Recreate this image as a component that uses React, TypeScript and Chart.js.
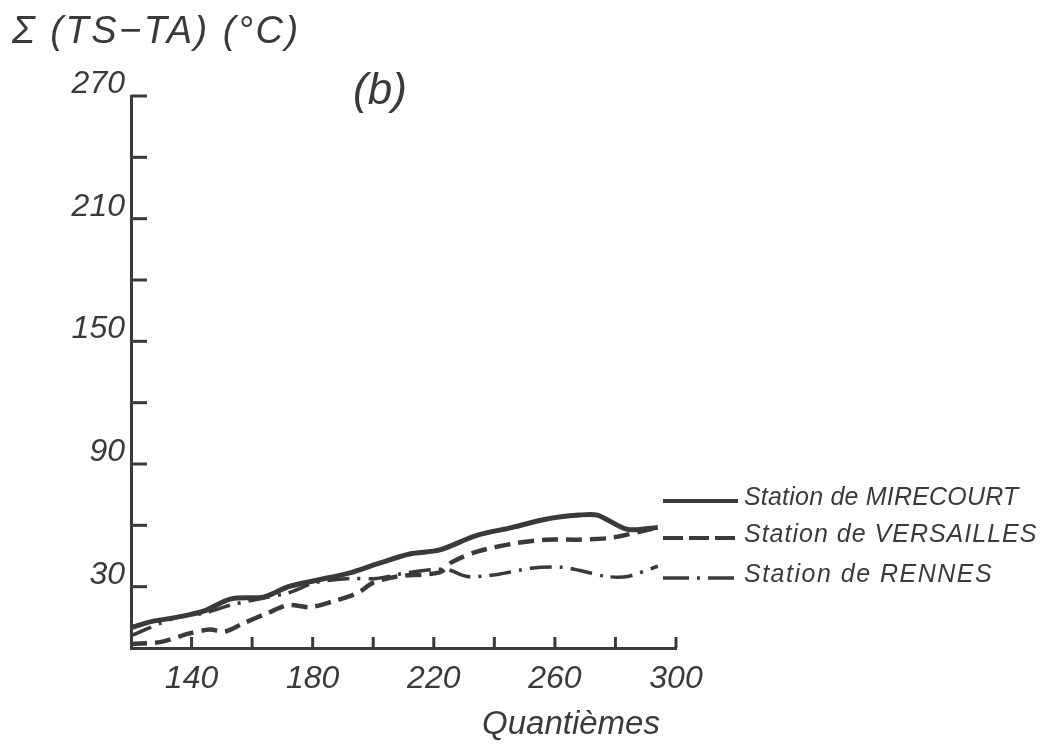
import React, { useEffect, useRef } from "react";
import { Chart, registerables } from "chart.js";

Chart.register(...registerables);

// Day of year (Quantièmes) and cumulated Σ(TS−TA) in °C
const mirecourtDays = [120, 127, 135, 144, 153, 164, 172, 181, 193, 201, 212, 222, 234, 246, 257, 268, 274, 284, 294];
const mirecourtSum = [10, 13, 15, 18, 24, 25, 30, 33, 37, 41, 46, 48, 55, 59, 63, 65, 65, 58, 59];

const versaillesDays = [120, 130, 139, 146, 151, 157, 165, 172, 179, 186, 195, 200, 208, 222, 226, 234, 246, 257, 268, 279, 294];
const versaillesSum = [2, 3, 7, 9, 8, 12, 17, 21, 20, 22.5, 27, 32, 35, 37, 42, 47, 51, 53, 53, 54, 59];

const rennesDays = [120, 135, 144, 153, 164, 172, 181, 192, 201, 212, 224, 231, 241, 252, 262, 268, 277, 284, 294];
const rennesSum = [6, 15, 17, 21, 24.5, 27, 32, 34, 34, 37, 38.5, 35, 36, 39, 39.5, 38, 35, 35, 40];

const xLabels = [140, 180, 220, 260, 300];
const yLabels = [30, 90, 150, 210, 270];

const seriesNames = ["Station de MIRECOURT", "Station de VERSAILLES", "Station de RENNES"];
const titleText = "Σ (TS−TA) (°C)";
const panelText = "(b)";
const xTitle = "Quantièmes";

const INK = "#3a3a3a";
const FONT = '"Liberation Sans", Arial, sans-serif';

const toPoints = (xs: number[], ys: number[]) => xs.map((x, i) => ({ x, y: ys[i] }));

export default function App() {
  const ref = useRef<HTMLCanvasElement | null>(null);

  useEffect(() => {
    document.body.style.margin = "0";
    const canvas = ref.current;
    if (!canvas) return;

    const setSpacing = (ctx: any, v: string) => {
      try { ctx.letterSpacing = v; } catch (e) {}
    };

    const decor = {
      id: "decor",
      afterDraw(chart: any) {
        const ctx = chart.ctx;
        const xs = chart.scales.x;
        const ys = chart.scales.y;
        ctx.save();
        ctx.strokeStyle = INK;
        ctx.fillStyle = INK;
        ctx.lineWidth = 3;
        ctx.lineCap = "butt";
        // inward tick marks
        ys.ticks.forEach((t: any) => {
          if (t.value <= 0) return;
          const y = ys.getPixelForValue(t.value);
          ctx.beginPath();
          ctx.moveTo(xs.left, y);
          ctx.lineTo(xs.left + 16, y);
          ctx.stroke();
        });
        xs.ticks.forEach((t: any) => {
          if (t.value <= 120) return;
          const x = xs.getPixelForValue(t.value);
          ctx.beginPath();
          ctx.moveTo(x, ys.bottom);
          ctx.lineTo(x, ys.bottom - 11);
          ctx.stroke();
        });

        // titles
        ctx.textBaseline = "alphabetic";
        ctx.textAlign = "left";
        ctx.font = `italic 38px ${FONT}`;
        setSpacing(ctx, "2.5px");
        ctx.fillText(titleText, 12, 43);
        setSpacing(ctx, "0px");
        ctx.font = `italic 44px ${FONT}`;
        ctx.textAlign = "center";
        ctx.fillText(panelText, 380, 104);
        ctx.font = `italic 33px ${FONT}`;
        ctx.fillText(xTitle, 571, 734);

        // legend
        const rows = [501, 538, 578];
        const dashes = [[], [20, 6], [26, 8, 3, 8]];
        const widths = [4, 4, 3.5];
        const spacing = ["0.2px", "1px", "1.5px"];
        rows.forEach((y, i) => {
          ctx.beginPath();
          ctx.setLineDash(dashes[i]);
          ctx.lineWidth = widths[i];
          ctx.moveTo(663, y);
          ctx.lineTo(738, y);
          ctx.stroke();
          ctx.setLineDash([]);
          ctx.font = `italic 25px ${FONT}`;
          ctx.textAlign = "left";
          setSpacing(ctx, spacing[i]);
          ctx.fillText(seriesNames[i], 744, y + 4);
          setSpacing(ctx, "0px");
        });
        ctx.restore();
      },
    };

    const chart = new Chart(canvas, {
      type: "line",
      data: {
        datasets: [
          {
            label: seriesNames[0],
            data: toPoints(mirecourtDays, mirecourtSum),
            borderColor: INK,
            borderWidth: 5,
            pointRadius: 0,
            tension: 0.3,
            fill: false,
          },
          {
            label: seriesNames[1],
            data: toPoints(versaillesDays, versaillesSum),
            borderColor: INK,
            borderWidth: 4.5,
            borderDash: [16, 8],
            pointRadius: 0,
            tension: 0.3,
            fill: false,
          },
          {
            label: seriesNames[2],
            data: toPoints(rennesDays, rennesSum),
            borderColor: INK,
            borderWidth: 3.5,
            borderDash: [22, 8, 3, 8],
            pointRadius: 0,
            tension: 0.3,
            fill: false,
          },
        ],
      },
      options: {
        responsive: false,
        animation: false,
        layout: { padding: { left: 0, top: 96, right: 381, bottom: 0 } },
        plugins: { legend: { display: false }, tooltip: { enabled: false }, title: { display: false } },
        scales: {
          x: {
            type: "linear",
            min: 120,
            max: 300,
            afterFit: (s: any) => { s.height = 96; },
            afterBuildTicks: (s: any) => {
              const t = [];
              for (let v = 120; v <= 300; v += 20) t.push({ value: v });
              s.ticks = t;
            },
            grid: { display: true, drawOnChartArea: false, drawTicks: false },
            border: { display: true, color: INK, width: 3 },
            ticks: {
              color: INK,
              padding: 12,
              maxRotation: 0,
              autoSkip: false,
              font: { family: FONT, style: "italic", size: 32 },
              callback: (v: any) => (xLabels.includes(Number(v)) ? String(v) : ""),
            },
          },
          y: {
            type: "linear",
            min: 0,
            max: 270,
            afterFit: (s: any) => { s.width = 131; },
            afterBuildTicks: (s: any) => {
              const t = [];
              for (let v = 0; v <= 270; v += 30) t.push({ value: v });
              s.ticks = t;
            },
            grid: { display: true, drawOnChartArea: false, drawTicks: false },
            border: { display: true, color: INK, width: 3 },
            ticks: {
              color: INK,
              padding: 6,
              labelOffset: -12,
              autoSkip: false,
              font: { family: FONT, style: "italic", size: 32 },
              callback: (v: any) => (yLabels.includes(Number(v)) ? String(v) : ""),
            },
          },
        },
      },
      plugins: [decor],
    });

    return () => chart.destroy();
  }, []);

  return (
    <div style={{ width: 1057, height: 744, background: "#fff" }}>
      <canvas ref={ref} width={1057} height={744} />
    </div>
  );
}
